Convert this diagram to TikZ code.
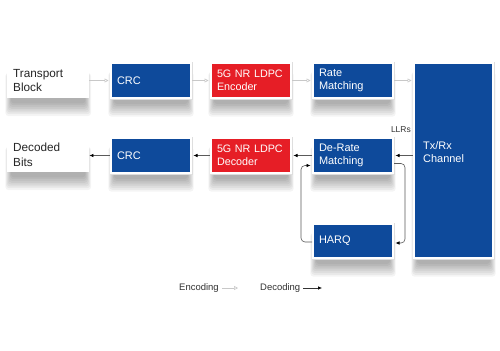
\documentclass[tikz,border=0pt]{standalone}
\usepackage{fontspec}
\setmainfont{Liberation Sans}
\usetikzlibrary{arrows.meta,backgrounds}
\definecolor{nrblue}{RGB}{14,74,155}
\definecolor{nrred}{RGB}{230,30,38}
\definecolor{enccol}{RGB}{200,200,200}
\definecolor{deccol}{RGB}{90,90,90}
\tikzset{
  box/.style={preaction={draw=black!13, line width=3bp}, draw=white, line width=2bp,
    minimum width=80bp, minimum height=35bp,
    text width=68bp, inner xsep=6bp, inner ysep=0bp, align=left, anchor=north west},
  bluebox/.style={box, fill=nrblue, text=white, font=\fontsize{11}{12.5}\selectfont},
  redbox/.style={box, fill=nrred, text=white, font=\fontsize{10.8}{12.5}\selectfont},
  whitebox/.style={anchor=north west, fill=white, draw=none, text=black!85, minimum width=82bp,
    minimum height=35bp, text width=70bp, inner xsep=6bp, inner ysep=0bp, align=left,
    font=\fontsize{11.8}{14.5}\selectfont},
  enc/.style={draw=enccol, line width=0.6bp, -{Triangle[open,length=4bp,width=4bp]}},
  dec/.style={draw=deccol, line width=0.6bp, -{Latex[length=4bp,width=3.5bp,color=black]}},
  lbl/.style={text=black!80, inner sep=0bp},
  shadowlayer/.style={fill=black, opacity=0.045, rounded corners=3bp},
}
\newcommand\softshadow[1]{%
  \foreach \k in {0,...,7}{%
    \path[shadowlayer] ([shift={(4-0.8*\k,-5-1.8*\k)}]#1.south west) rectangle ([shift={(-4+0.8*\k,-10)}]#1.north east);
  }}
\begin{document}
\begin{tikzpicture}[x=1bp,y=1bp]
\useasboundingbox (0,0) rectangle (500,350);
% top row
\node[whitebox] (tb) at (7,287) {Transport\\Block};
\node[bluebox] (crc1) at (110,288) {CRC};
\node[redbox] (encd) at (210,288) {5G NR LDPC\\Encoder};
\node[bluebox] (rm) at (312,288) {Rate\\Matching};
% channel
\node[bluebox, minimum height=195bp, minimum width=79bp, text width=67bp] (channel) at (413,288) {};
\node[lbl, anchor=west, text=white, align=left, font=\fontsize{11}{12.5}\selectfont] (chtext) at (423,198) {Tx/Rx\\Channel};
% bottom row
\node[whitebox] (db) at (7,213) {Decoded\\Bits};
\node[bluebox] (crc2) at (110,213) {CRC};
\node[redbox] (decd) at (210,213) {5G NR LDPC\\Decoder};
\node[bluebox] (drm) at (312,213) {De-Rate\\Matching};
\node[bluebox, minimum height=34bp] (harq) at (312,127) {HARQ};
% shadows
\begin{scope}[on background layer]
  \fill[white] (0,0) rectangle (500,350);
  \softshadow{tb}\softshadow{crc1}\softshadow{encd}\softshadow{rm}\softshadow{channel}
  \softshadow{db}\softshadow{crc2}\softshadow{decd}\softshadow{drm}\softshadow{harq}
\end{scope}
% encoding arrows
\draw[enc] (tb.east |- crc1.west) -- ([xshift=-1.5bp]crc1.west);
\draw[enc] (crc1.east) -- ([xshift=-1.5bp]encd.west);
\draw[enc] (encd.east) -- ([xshift=-1.5bp]rm.west);
\draw[enc] (rm.east) -- ([xshift=-1.5bp]rm.east -| channel.west);
% decoding arrows
\draw[dec] (channel.west |- drm.east) -- ([xshift=1.5bp]drm.east);
\draw[dec] (drm.west) -- ([xshift=1.5bp]decd.east);
\draw[dec] (decd.west) -- ([xshift=1.5bp]crc2.east);
\draw[dec] (crc2.west) -- (crc2.west -| db.east);
\draw[dec, rounded corners=4bp] ([yshift=-8bp]drm.east) -- ++(11bp,0) |- ([yshift=-2bp, xshift=1.5bp]harq.east);
\draw[dec, rounded corners=4bp] ([yshift=-1bp]harq.west) -- ++(-11bp,0) |- ([yshift=-10bp, xshift=-1.5bp]drm.west);
\node[lbl, anchor=east, font=\fontsize{8.5}{10}\selectfont] (llrs) at (411,220) {LLRs};
% legend
\node[lbl, anchor=west, font=\fontsize{9.5}{11}\selectfont] (lenc) at (179,62) {Encoding};
\coordinate (lencend) at (238,62);
\draw[enc] ([xshift=3bp]lenc.east) -- (lencend);
\node[lbl, anchor=west, font=\fontsize{9.5}{11}\selectfont] (ldec) at (260,62) {Decoding};
\coordinate (ldecend) at (322,62);
\draw[dec, draw=black!80] ([xshift=3bp]ldec.east) -- (ldecend);
\end{tikzpicture}
\end{document}
